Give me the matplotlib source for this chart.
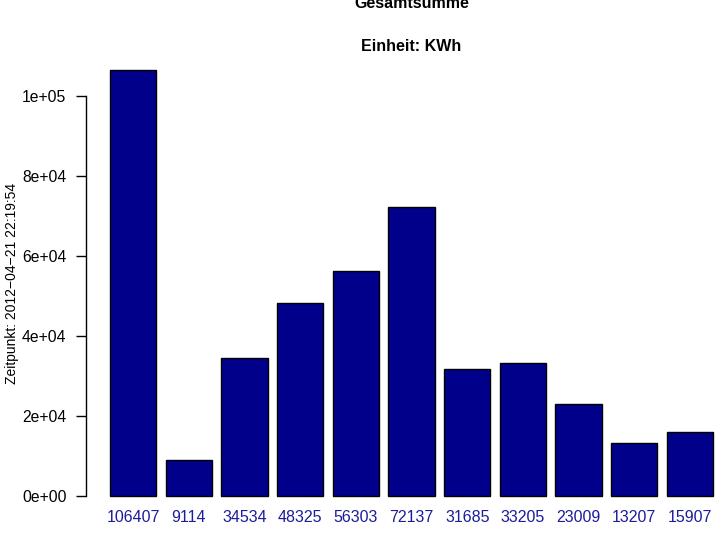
import numpy as np
import matplotlib
matplotlib.use("Agg")
import matplotlib.pyplot as plt

plt.rcParams['font.family'] = ['Liberation Sans', 'DejaVu Sans']

labels = ["106407", "9114", "34534", "48325", "56303", "72137",
          "31685", "33205", "23009", "13207", "15907"]
values = [106407, 9114, 34534, 48325, 56303, 72137,
          31685, 33205, 23009, 13207, 15907]
yticks = [0, 20000, 40000, 60000, 80000, 100000]
yticklabels = ["0e+00", "2e+04", "4e+04", "6e+04", "8e+04", "1e+05"]

W, H = 727, 535
fig = plt.figure(figsize=(W / 100, H / 100), dpi=100)

# plot region in pixels (R-style, extends past the right edge)
left, right, top, bottom = 85.9, 737.3, 53.4, 513.0
ax = fig.add_axes([left / W, 1 - bottom / H, (right - left) / W, (bottom - top) / H])

n = len(values)
centers = 0.7 + 1.2 * np.arange(n)
ax.bar(centers, values, width=1.0, color="#00008B", edgecolor="black", linewidth=1.0)

ymax = max(values)
ax.set_ylim(-0.04 * ymax, 1.04 * ymax)
ax.set_xlim(-0.32, 13.72)

for s in ["top", "right", "bottom"]:
    ax.spines[s].set_visible(False)
ax.spines["left"].set_bounds(0, 100000)
ax.spines["left"].set_linewidth(1.0)

ax.set_yticks(yticks)
ax.set_yticklabels(yticklabels, fontsize=11.3)
ax.tick_params(axis="y", length=7, width=1.0, pad=7)

ax.set_xticks(centers)
ax.set_xticklabels(labels, fontsize=11.5, color="#1C1C9C")
ax.tick_params(axis="x", length=0, pad=-2.5)

ax.set_ylabel("Zeitpunkt: 2012\u221204\u221221 22:19:54", fontsize=10)
ax.yaxis.set_label_coords((19 - left) / (right - left), 0.5)

cx = ((left + right) / 2) / W
fig.text(cx, 1 - 3 / H, "Gesamtsumme", ha="center", va="center",
         fontsize=11.5, fontweight="bold")
fig.text(cx, 1 - 47 / H, "Einheit: KWh", ha="center", va="center",
         fontsize=11.5, fontweight="bold")

fig.savefig("out.png", dpi=100)
